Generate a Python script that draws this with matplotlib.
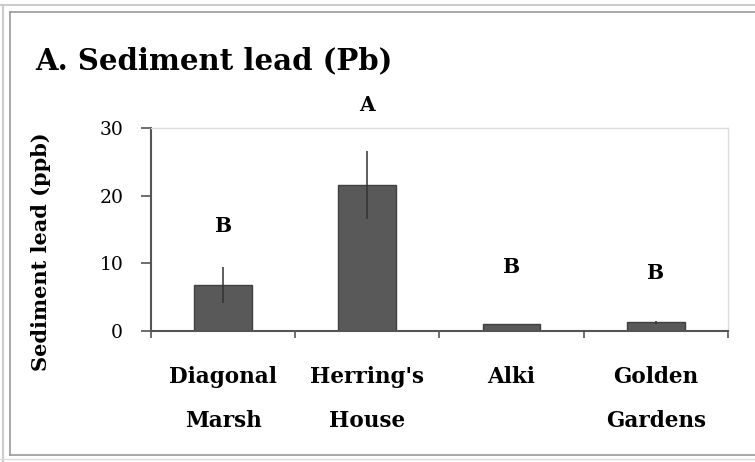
import matplotlib.pyplot as plt
from matplotlib.lines import Line2D

sites = ["Diagonal\nMarsh", "Herring's\nHouse", "Alki", "Golden\nGardens"]
lead_ppb = [6.8, 21.6, 1.0, 1.3]
lead_err = [2.6, 5.0, 0.1, 0.2]
letters = ["B", "A", "B", "B"]
letter_y = [15.5, 33.4, 9.5, 8.6]

plt.rcParams["font.family"] = ["DejaVu Serif"]

fig = plt.figure(figsize=(7.55, 4.62), dpi=100)
ax = fig.add_axes([0.2, 0.2835, 0.764, 0.4395])

x = list(range(len(sites)))
ax.bar(x, lead_ppb, width=0.4, color="#595959", edgecolor="#404040", linewidth=1, zorder=2)
ax.errorbar(x, lead_ppb, yerr=lead_err, fmt="none", ecolor="#333333", elinewidth=1.1, capsize=0, zorder=3)

for xi, lab, ly in zip(x, letters, letter_y):
    ax.text(xi, ly, lab, ha="center", va="center", fontsize=14.5, fontweight="bold", clip_on=False)

ax.set_xlim(-0.5, 3.5)
ax.set_ylim(0, 30)
ax.set_yticks([0, 10, 20, 30])
ax.tick_params(axis="y", direction="out", length=7, width=1.2, color="#555555", labelsize=13.5, pad=13)

ax.set_xticks(x)
ax.set_xticklabels(sites, fontsize=15.5, fontweight="bold", linespacing=2.3)
ax.set_xticks([-0.5, 0.5, 1.5, 2.5, 3.5], minor=True)
ax.tick_params(axis="x", which="major", length=0, pad=25)
ax.tick_params(axis="x", which="minor", direction="out", length=5, width=1.2, color="#555555")

for side in ["left", "bottom"]:
    ax.spines[side].set_color("#555555")
    ax.spines[side].set_linewidth(1.5)
for side in ["top", "right"]:
    ax.spines[side].set_color("#dddddd")
    ax.spines[side].set_linewidth(1)

ax.set_ylabel("Sediment lead (ppb)", fontsize=15, fontweight="bold")
ax.yaxis.set_label_coords(-0.173, 0.389)

fig.text(35 / 755, 1 - 61 / 462, "A. Sediment lead (Pb)", fontsize=21, fontweight="bold", va="center", ha="left")

# outer frame
fig.add_artist(Line2D([0, 1], [1 - 5 / 462, 1 - 5 / 462], color="#cccccc", lw=1.5))
fig.add_artist(Line2D([3 / 755, 3 / 755], [0, 1 - 5 / 462], color="#cccccc", lw=1.5))
fig.add_artist(Line2D([10 / 755, 1], [1 - 12 / 462, 1 - 12 / 462], color="#999999", lw=1.2))
fig.add_artist(Line2D([10 / 755, 10 / 755], [1 - 455 / 462, 1 - 12 / 462], color="#999999", lw=1.2))
fig.add_artist(Line2D([10 / 755, 1], [1 - 455 / 462, 1 - 455 / 462], color="#999999", lw=1.2))
fig.add_artist(Line2D([0, 1], [1 - 459 / 462, 1 - 459 / 462], color="#dddddd", lw=1.0))

fig.savefig("out.png", dpi=100)
